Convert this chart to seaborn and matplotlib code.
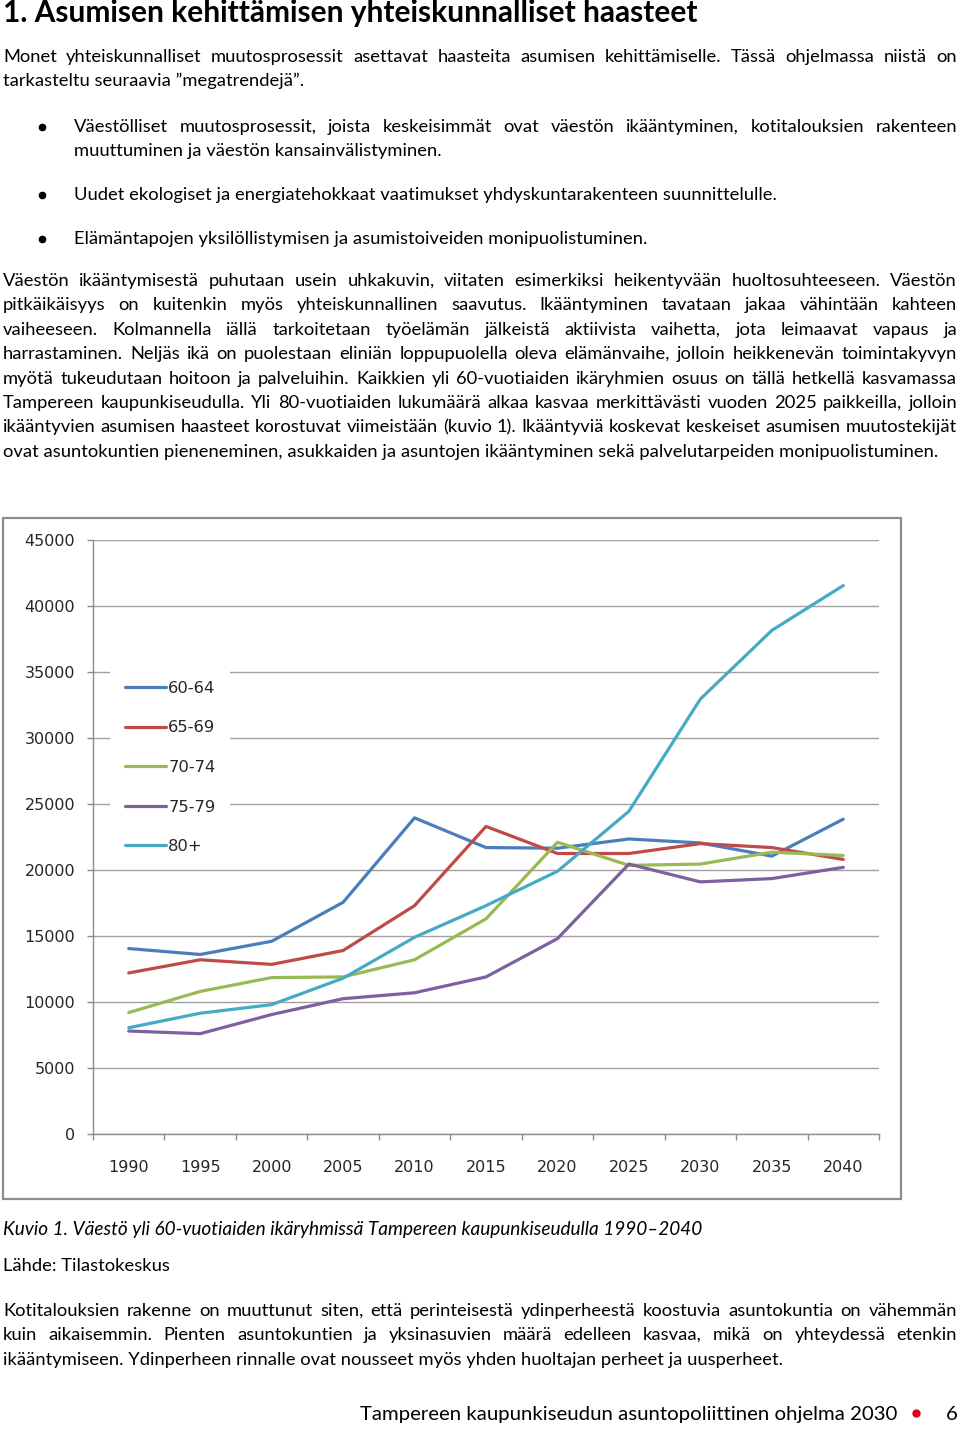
import math
import numpy as np
import pandas as pd
import matplotlib
matplotlib.use("Agg")
import matplotlib.pyplot as plt
import seaborn as sns
from matplotlib.font_manager import FontProperties
from matplotlib.patches import Rectangle
from matplotlib.lines import Line2D

# ---------------- data ----------------
years = [1990, 1995, 2000, 2005, 2010, 2015, 2020, 2025, 2030, 2035, 2040]
age_groups = ["60-64", "65-69", "70-74", "75-79", "80+"]
pop_60_64 = [14050, 13600, 14600, 17550, 23950, 21700, 21650, 22350, 22050, 21050, 23850]
pop_65_69 = [12200, 13200, 12850, 13900, 17300, 23300, 21250, 21250, 22000, 21700, 20800]
pop_70_74 = [9200, 10800, 11850, 11900, 13200, 16300, 22100, 20350, 20450, 21350, 21100]
pop_75_79 = [7800, 7600, 9050, 10250, 10700, 11900, 14800, 20450, 19100, 19350, 20200]
pop_80_plus = [8050, 9150, 9800, 11800, 14900, 17300, 19900, 24450, 32950, 38150, 41550]
y_ticks = [0, 5000, 10000, 15000, 20000, 25000, 30000, 35000, 40000, 45000]

title = "1. Asumisen kehittämisen yhteiskunnalliset haasteet"
para1 = ["Monet yhteiskunnalliset muutosprosessit asettavat haasteita asumisen kehittämiselle. Tässä ohjelmassa niistä on",
         "tarkasteltu seuraavia ”megatrendejä”."]
bullets = [["Väestölliset muutosprosessit, joista keskeisimmät ovat väestön ikääntyminen, kotitalouksien rakenteen",
            "muuttuminen ja väestön kansainvälistyminen."],
           ["Uudet ekologiset ja energiatehokkaat vaatimukset yhdyskuntarakenteen suunnittelulle."],
           ["Elämäntapojen yksilöllistymisen ja asumistoiveiden monipuolistuminen."]]
para2 = ["Väestön ikääntymisestä puhutaan usein uhkakuvin, viitaten esimerkiksi heikentyvään huoltosuhteeseen. Väestön",
         "pitkäikäisyys on kuitenkin myös yhteiskunnallinen saavutus. Ikääntyminen tavataan jakaa vähintään kahteen",
         "vaiheeseen. Kolmannella iällä tarkoitetaan työelämän jälkeistä aktiivista vaihetta, jota leimaavat vapaus ja",
         "harrastaminen. Neljäs ikä on puolestaan eliniän loppupuolella oleva elämänvaihe, jolloin heikkenevän toimintakyvyn",
         "myötä tukeudutaan hoitoon ja palveluihin. Kaikkien yli 60-vuotiaiden ikäryhmien osuus on tällä hetkellä kasvamassa",
         "Tampereen kaupunkiseudulla. Yli 80-vuotiaiden lukumäärä alkaa kasvaa merkittävästi vuoden 2025 paikkeilla, jolloin",
         "ikääntyvien asumisen haasteet korostuvat viimeistään (kuvio 1). Ikääntyviä koskevat keskeiset asumisen muutostekijät",
         "ovat asuntokuntien pieneneminen, asukkaiden ja asuntojen ikääntyminen sekä palvelutarpeiden monipuolistuminen."]
caption = "Kuvio 1. Väestö yli 60-vuotiaiden ikäryhmissä Tampereen kaupunkiseudulla 1990–2040"
source = "Lähde: Tilastokeskus"
para3 = ["Kotitalouksien rakenne on muuttunut siten, että perinteisestä ydinperheestä koostuvia asuntokuntia on vähemmän",
         "kuin aikaisemmin. Pienten asuntokuntien ja yksinasuvien määrä edelleen kasvaa, mikä on yhteydessä etenkin",
         "ikääntymiseen. Ydinperheen rinnalle ovat nousseet myös yhden huoltajan perheet ja uusperheet."]
footer = "Tampereen kaupunkiseudun asuntopoliittinen ohjelma 2030"
page_no = "6"

palette = {"60-64": "#4A7EBB", "65-69": "#BE4B48", "70-74": "#98B954",
           "75-79": "#7D60A0", "80+": "#46AAC5"}

df = pd.DataFrame({
    "year": years * 5,
    "group": sum([[g] * len(years) for g in age_groups], []),
    "pop": pop_60_64 + pop_65_69 + pop_70_74 + pop_75_79 + pop_80_plus,
})

# ---------------- figure ----------------
sns.set_style("white")
plt.rcParams["font.family"] = ["DejaVu Sans"]
W, H = 960, 1429
fig = plt.figure(figsize=(W / 100, H / 100), dpi=100)
fig.patch.set_facecolor("white")
renderer = fig.canvas.get_renderer()

try:
    from matplotlib.backends.backend_agg import get_hinting_flag
except Exception:
    get_hinting_flag = None

def fx(x):
    return x / W

def fy(y):
    return 1 - y / H

BODY = ["Lato", "DejaVu Sans"]

def fp_of(size, weight="normal", style="normal"):
    return FontProperties(family=BODY, size=size, weight=weight, style=style)

def tw(s, fp):
    w, h, d = renderer.get_text_width_height_descent(s, fp, ismath=False)
    return w

def fit(s, target, weight="normal", style="normal"):
    base = 12.0
    return base * target / tw(s, fp_of(base, weight, style))

def snapped_baseline(word, fp, base):
    """Baseline y (top-down px) that lands every word on the same pixel row."""
    try:
        font = renderer._prepare_font(fp)
        font.set_text(word, 0, flags=get_hinting_flag())
        w64, h64 = font.get_width_height()
        d64 = font.get_descent()
        D = d64 / 64.0
        ymax = (h64 - d64) / 64.0
        r = round(base) + h64 // 64 - math.floor(ymax)
        return r - D
    except Exception:
        return base

def put_words(s, x0, x1, base, fp, justify, color="black"):
    words = s.split(" ")
    widths = [tw(w, fp) for w in words]
    if justify and len(words) > 1:
        gap = (x1 - x0 - sum(widths)) / (len(words) - 1)
    else:
        gap = tw("a a", fp) - tw("aa", fp)
    x = x0
    for w, wd in zip(words, widths):
        yb = snapped_baseline(w, fp, base)
        fig.text(fx(x), fy(yb), w, fontproperties=fp, va="baseline", ha="left", color=color)
        x += wd + gap

def put_line(s, x0, x1, base, fp, justify, color="black"):
    if justify:
        put_words(s, x0, x1, base, fp, True, color)
    else:
        yb = snapped_baseline(s, fp, base)
        fig.text(fx(x0), fy(yb), s, fontproperties=fp, va="baseline", ha="left", color=color)

# title
fp_title = fp_of(fit(title, 689, weight="bold"), weight="bold")
put_line(title, 3, 692, 22.5, fp_title, False)

# body size: match the free last line, but keep every justified line within its box
just_lines = [(para1[0], 948), (bullets[0][0], 877)] + [(l, 948) for l in para2[:-1]] + \
             [(l, 948) for l in para3[:-1]]
body_size = min([fit(para2[-1], 941)] + [fit(l, t) for l, t in just_lines])
fp_body = fp_of(body_size)
LH = 24.4

# paragraph 1
for i, line in enumerate(para1):
    put_line(line, 3, 957, 61.5 + i * LH, fp_body, i < len(para1) - 1)

# bullets
bullet_bases = [[131.5, 155.9], [199.5], [244.3]]
for lines, bases in zip(bullets, bullet_bases):
    fig.add_artist(Line2D([fx(42)], [fy(bases[0] - 5)], marker="o", markersize=4.5,
                          color="black", transform=fig.transFigure))
    for i, (line, b) in enumerate(zip(lines, bases)):
        put_line(line, 74, 957, b, fp_body, i < len(lines) - 1)

# paragraph 2
for i, line in enumerate(para2):
    put_line(line, 3, 957, 286 + i * LH, fp_body, i < len(para2) - 1)

# caption + source
fp_cap = fp_of(fit(caption, 696, style="italic"), style="italic")
put_line(caption, 3, 699, 1235, fp_cap, False)
put_line(source, 3, 167, 1271, fp_body, False)

# paragraph 3
for i, line in enumerate(para3):
    put_line(line, 3, 957, 1316 + i * LH, fp_body, i < len(para3) - 1)

# footer
fp_foot = fp_of(fit(footer, 536))
put_line(footer, 360, 896, 1420, fp_foot, False)
fig.add_artist(Line2D([fx(916)], [fy(1413)], marker="o", markersize=5,
                      color="#E2001A", transform=fig.transFigure))
put_line(page_no, 946, 958, 1420, fp_foot, False)

# chart frame
fig.add_artist(Rectangle((fx(3), fy(1199)), (901 - 3) / W, (1199 - 518) / H,
                         transform=fig.transFigure, fill=False,
                         edgecolor="#8C8C8C", linewidth=1.6))

# ---------------- chart ----------------
ax = fig.add_axes([fx(93), fy(1134), (879 - 93) / W, (1134 - 540) / H])
sns.lineplot(data=df, x="year", y="pop", hue="group", hue_order=age_groups,
             palette=palette, linewidth=2.3, ax=ax)

ax.set_xlim(1987.5, 2042.5)
ax.set_ylim(0, 45000)
ax.set_xlabel("")
ax.set_ylabel("")
ax.set_yticks(y_ticks)
ax.set_yticklabels([str(v) for v in y_ticks])
ax.set_xticks(np.arange(1987.5, 2043, 5))
ax.set_xticklabels([])
ax.set_xticks(years, minor=True)
ax.set_xticklabels([str(y) for y in years], minor=True)

tick_col = "#8C8C8C"
ax.tick_params(axis="y", which="major", length=4.3, width=1, color=tick_col,
               pad=8.6, labelsize=11.5, labelcolor="#262626", left=True)
ax.tick_params(axis="x", which="major", length=4.3, width=1, color=tick_col,
               direction="out", bottom=True)
ax.tick_params(axis="x", which="minor", length=0, pad=18.5, labelsize=11.5,
               labelcolor="#262626")

ax.grid(axis="y", color="#A0A0A0", linewidth=1)
ax.grid(axis="x", visible=False)
ax.set_axisbelow(True)
for s in ["top", "right"]:
    ax.spines[s].set_visible(False)
for s in ["left", "bottom"]:
    ax.spines[s].set_color(tick_col)
    ax.spines[s].set_linewidth(1)

handles, labels = ax.get_legend_handles_labels()
leg = ax.legend(handles, labels, loc="upper left",
                bbox_to_anchor=(fx(110), fy(666)), bbox_transform=fig.transFigure,
                frameon=True, facecolor="white", edgecolor="none", framealpha=1,
                fancybox=False, fontsize=11.8, handlelength=2.5, handletextpad=0.15,
                labelspacing=1.5, borderpad=0.9, borderaxespad=0)
for t in leg.get_texts():
    t.set_color("#262626")
for h in leg.legend_handles:
    h.set_linewidth(2.3)

fig.savefig("out.png", dpi=100, facecolor="white")
